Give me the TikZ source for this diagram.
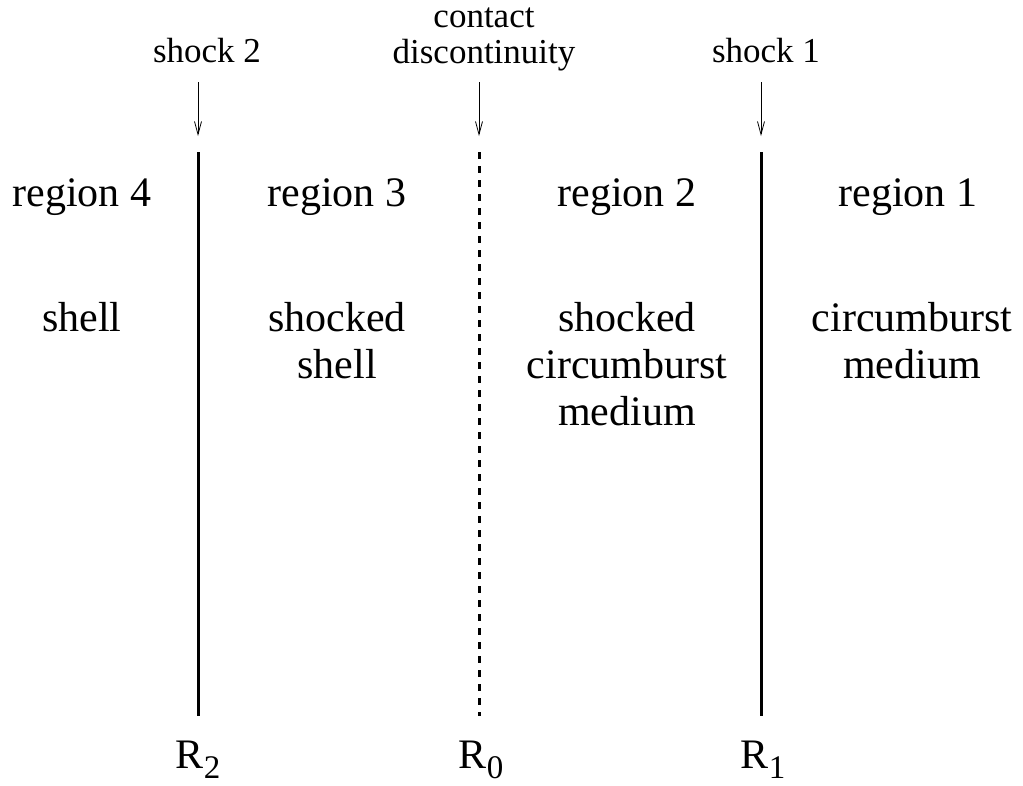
\documentclass[tikz,border=0pt]{standalone}
\usepackage{fontspec}
\setmainfont{Liberation Serif}
\usetikzlibrary{arrows.meta}
\begin{document}
\begin{tikzpicture}[x=1pt,y=-1pt,
  toplabel/.style={font=\fontsize{35}{36}\selectfont, align=center, inner sep=0pt},
  regionlabel/.style={font=\fontsize{42}{47}\selectfont, align=center, inner sep=0pt, anchor=north},
  rlabel/.style={font=\fontsize{42}{44}\selectfont, inner sep=0pt, anchor=base},
  subscr/.style={},
  shockline/.style={line width=3pt},
  contactline/.style={line width=3pt, dash pattern=on 7pt off 7pt},
  pointer/.style={line width=0.8pt, -{Straight Barb[length=13pt,width=7pt]}}]
\useasboundingbox (0,0) rectangle (1023,785);
% lines
\coordinate (s2t) at (198,152); \coordinate (s2b) at (198,716);
\coordinate (cdt) at (479,152); \coordinate (cdb) at (479,716);
\coordinate (s1t) at (761,152); \coordinate (s1b) at (761,716);
\draw[shockline] (s2t) -- (s2b);
\draw[contactline] (cdt) -- (cdb);
\draw[shockline] (s1t) -- (s1b);
% top labels
\node[toplabel, anchor=base] (ls2) at (207,62) {shock 2};
\node[toplabel, anchor=north] (lcd) at (484,8) {contact\\discontinuity};
\node[toplabel, anchor=base] (ls1) at (766,62) {shock 1};
\coordinate (a2s) at (198,82); \coordinate (a2e) at (198,136);
\coordinate (acs) at (479,82); \coordinate (ace) at (479,136);
\coordinate (a1s) at (761,82); \coordinate (a1e) at (761,136);
\draw[pointer] (a2s) -- (a2e);
\draw[pointer] (acs) -- (ace);
\draw[pointer] (a1s) -- (a1e);
% region labels
\node[regionlabel] (r4) at (82,178) {region 4};
\node[regionlabel] (r3) at (337,178) {region 3};
\node[regionlabel] (r2) at (627,178) {region 2};
\node[regionlabel] (r1) at (908,178) {region 1};
\node[regionlabel] (d4) at (82,302) {shell};
\node[regionlabel] (d3) at (337,302) {shocked\\shell};
\node[regionlabel] (d2) at (627,302) {shocked\\circumburst\\medium};
\node[regionlabel] (d1) at (912,302) {circumburst\\medium};
% bottom labels
\node[rlabel] (R2) at (198,768) {R\raisebox{-10pt}{\fontsize{33}{33}\selectfont 2}};
\node[rlabel] (R0) at (481,768) {R\raisebox{-10pt}{\fontsize{33}{33}\selectfont 0}};
\node[rlabel] (R1) at (763,768) {R\raisebox{-10pt}{\fontsize{33}{33}\selectfont 1}};
\end{tikzpicture}
\end{document}
